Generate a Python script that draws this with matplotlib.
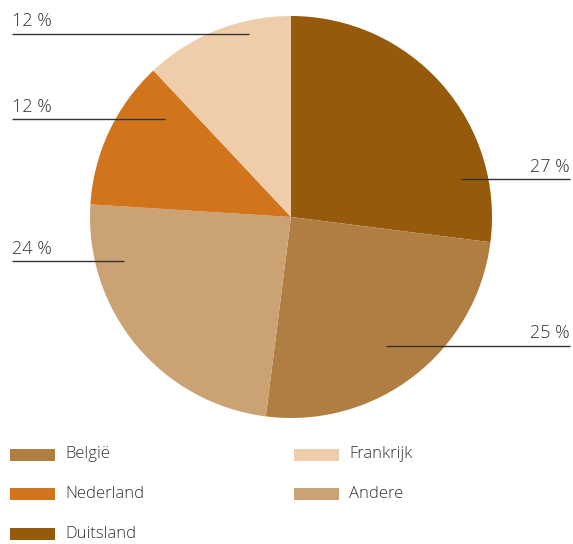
import matplotlib.pyplot as plt
from matplotlib.patches import Rectangle

# share per country, in drawing order (clockwise from 12 o'clock)
countries = ["Duitsland", "België", "Andere", "Nederland", "Frankrijk"]
shares = [27, 25, 24, 12, 12]
colors = ["#955A0B", "#B07E42", "#CBA274", "#D1741B", "#EFCDAA"]

# legend order (row by row, two columns)
legend_order = ["België", "Frankrijk", "Nederland", "Andere", "Duitsland"]

W, H = 573, 544
plt.rcParams["font.family"] = ["Open Sans", "DejaVu Sans"]
text_color = "#333333"
font = dict(fontweight="light", color=text_color)

fig = plt.figure(figsize=(W / 100, H / 100), dpi=100)
ax = fig.add_axes([0, 0, 1, 1])

# pie in pixel units (y measured from the top of the figure)
cx, cy, r = 291, 217, 201
ax.pie(shares, colors=colors, startangle=90, counterclock=False,
       center=(cx, H - cy), radius=r, wedgeprops=dict(linewidth=0))
ax.set_xlim(0, W)
ax.set_ylim(0, H)
ax.set_aspect("equal")
ax.axis("off")

# leader lines: (y of line, inner x end, side)
leaders = {
    "Duitsland": (178.5, 461, "right"),
    "België": (345.5, 386, "right"),
    "Andere": (260.5, 124, "left"),
    "Nederland": (118.5, 165, "left"),
    "Frankrijk": (33.5, 249, "left"),
}
for name, share in zip(countries, shares):
    ly, lx, side = leaders[name]
    y = H - ly
    if side == "right":
        ax.plot([lx, 570], [y, y], color="#333333", lw=1, solid_capstyle="butt")
        ax.text(570, y + 3, f"{share} %", ha="right", va="bottom", fontsize=13, **font)
    else:
        ax.plot([12, lx], [y, y], color="#333333", lw=1, solid_capstyle="butt")
        ax.text(12, y + 3, f"{share} %", ha="left", va="bottom", fontsize=13, **font)

# legend drawn by hand in two columns
col_x = [10, 294]
row_y = [454.5, 494, 534]
for i, name in enumerate(legend_order):
    x0 = col_x[i % 2]
    y0 = row_y[i // 2]
    c = colors[countries.index(name)]
    ax.add_patch(Rectangle((x0, H - y0 - 6), 45, 12, facecolor=c, edgecolor="none"))
    ax.text(x0 + 55, H - y0, name, ha="left", va="center", fontsize=12, **font)

fig.savefig("out.png", dpi=100)
